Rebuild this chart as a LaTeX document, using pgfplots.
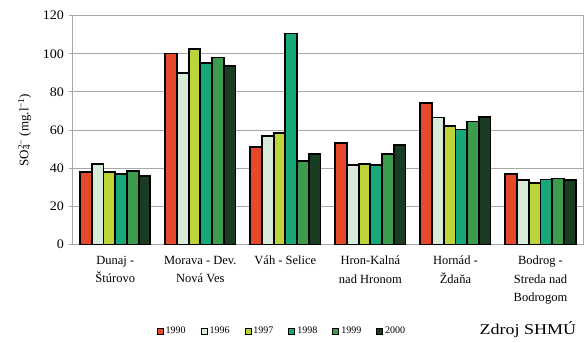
\documentclass[border=0pt]{standalone}
\usepackage{fontspec}
\setmainfont{Liberation Serif}
\usepackage{pgfplots}
\pgfplotsset{compat=1.18}

\definecolor{c1990}{HTML}{E5492A}
\definecolor{c1996}{HTML}{D8EAD8}
\definecolor{c1997}{HTML}{BCD43A}
\definecolor{c1998}{HTML}{17A87A}
\definecolor{c1999}{HTML}{3E9A4C}
\definecolor{c2000}{HTML}{1A3D22}
\definecolor{gridgray}{HTML}{A8A8A8}

\tikzset{yearbar/.style={draw=black, line width=1.8pt, fill=#1}}

\begin{document}
\begin{tikzpicture}
\begin{axis}[
  scale only axis,
  width=510pt, height=228.6pt,
  clip=false,
  ybar=0pt, bar width=11.7pt,
  xmin=-0.5, xmax=5.5,
  ymin=0, ymax=120,
  ytick={0,20,...,120},
  xtick={0,...,5},
  xticklabels={{Dunaj -\\Štúrovo},{Morava - Dev.\\Nová Ves},{Váh - Selice},{Hron-Kalná\\nad Hronom},{Hornád -\\Ždaňa},{Bodrog -\\Streda nad\\Bodrogom}},
  x tick label style={align=center, font=\fontsize{12.5}{18.5}\selectfont, anchor=north, yshift=-4pt},
  y tick label style={font=\fontsize{13}{15}\selectfont, xscale=1.08, xshift=-1pt},
  /pgf/number format/assume math mode=true,
  major x tick style={draw=none},
  extra x ticks={-0.5,0.5,1.5,2.5,3.5,4.5},
  extra x tick labels={},
  extra x tick style={major tick length=4pt, tick align=outside, tick style={draw=gridgray, line width=0.8pt}, grid=none},
  ymajorgrids,
  grid style={draw=gridgray, line width=0.9pt},
  tick align=outside,
  major tick length=4pt,
  y tick style={draw=gridgray, line width=0.9pt},
  axis line style={draw=gridgray, line width=0.9pt},
  ylabel={SO\rlap{\textsubscript{4}}\textsuperscript{2−} (mg.l\textsuperscript{−1})},
  ylabel style={font=\fontsize{13}{15}\selectfont, at={(axis description cs:0,0.5)}, anchor=south, yshift=38pt},
  legend columns=6,
  legend style={draw=none, fill=none, font=\fontsize{10}{12}\selectfont,
    at={(rel axis cs:0.41,-0.38)}, anchor=center,
    /tikz/every even column/.append style={column sep=13pt}},
  legend image code/.code={\draw[#1, line width=0.9pt] (0pt,-3pt) rectangle (6pt,3pt);},
]
\addplot[yearbar=c1990] coordinates {(0,37.8) (1,100.2) (2,51.3) (3,53.2) (4,74.3) (5,37.1)};
\addplot[yearbar=c1996] coordinates {(0,42.2) (1,90.1) (2,57.0) (3,41.8) (4,66.6) (5,33.8)};
\addplot[yearbar=c1997] coordinates {(0,38.1) (1,102.7) (2,58.6) (3,42.2) (4,62.1) (5,32.2)};
\addplot[yearbar=c1998] coordinates {(0,36.9) (1,95.0) (2,110.7) (3,41.5) (4,60.3) (5,34.1)};
\addplot[yearbar=c1999] coordinates {(0,38.7) (1,98.1) (2,43.6) (3,47.6) (4,64.5) (5,34.6)};
\addplot[yearbar=c2000] coordinates {(0,35.9) (1,93.8) (2,47.4) (3,52.3) (4,67.0) (5,33.8)};
\legend{1990,1996,1997,1998,1999,2000}
\node[anchor=base east, font=\fontsize{15}{17}\selectfont, xscale=1.2] at (rel axis cs:0.995,-0.392) {Zdroj SHMÚ};
\end{axis}
\pgfresetboundingbox
\path ([shift={(-72.7pt,-97.7pt)}]current axis.south west) rectangle ([shift={(1pt,15.7pt)}]current axis.north east);
\end{tikzpicture}
\end{document}
